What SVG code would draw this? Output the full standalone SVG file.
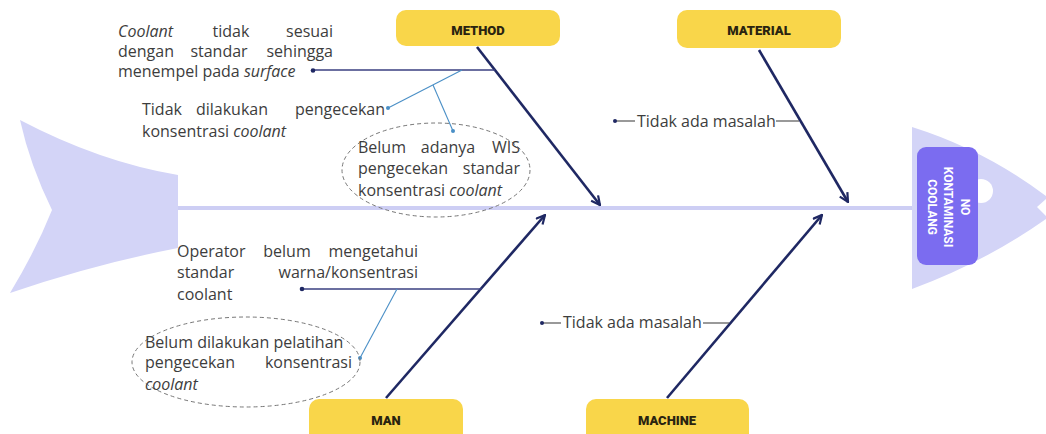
<svg xmlns="http://www.w3.org/2000/svg" width="1046" height="434" viewBox="0 0 1046 434">
<style>
.t{font-family:'Open Sans','Liberation Sans',sans-serif;font-size:16px;fill:#3d3d3d}
.i{font-style:italic}
.e{text-anchor:end}
.m{text-anchor:middle}
.box{fill:#F9D64A}
.lbl{font-family:Roboto,'DejaVu Sans',sans-serif;font-weight:900;font-size:13px;fill:#2a2410;text-anchor:middle}
.bone{stroke:#1f2863;stroke-width:2.6;fill:none}
.sub{stroke:#3a3f80;stroke-width:1.5;fill:none}
.blue{stroke:#4a8fc6;stroke-width:1.1;fill:none}
.thin{stroke:#555;stroke-width:1.2;fill:none}
.dot{fill:#1f2863}
.bdot{fill:#4a8fc6}
.ell{fill:none;stroke:#777;stroke-width:1;stroke-dasharray:4 3}
.fish{fill:#d3d4f7}
</style>
<defs>
<marker id="arr" viewBox="0 0 10 10" refX="9" refY="5" markerWidth="11" markerHeight="11" markerUnits="userSpaceOnUse" orient="auto">
<path d="M1,1 L9,5 L1,9" fill="none" stroke="#1f2863" stroke-width="2"/>
</marker>
</defs>

<g id="tail">
<path class="fish" d="M20,120 Q100,162 178,175 L178,248 Q95,264 10,293 Q36,250 52,210 Q30,165 20,120 Z"/>
</g>

<g id="spine">
<line x1="178" y1="208" x2="916" y2="208" stroke="#cdcef4" stroke-width="4"/>
</g>

<g id="head">
<path class="fish" d="M912,127 Q985,150 1046,196 L1046,199 L1037,207 L1046,216 L1046,219 Q985,262 912,289 Z"/>
<circle cx="981" cy="191" r="12" fill="#fff"/>
<rect x="917" y="147" width="61" height="118" rx="9" fill="#7b6cf0"/>
<g transform="translate(947,207) rotate(90)" font-family="Roboto,'DejaVu Sans',sans-serif" font-weight="700" font-size="12" fill="#fff" text-anchor="middle">
<text x="0" y="-13.5">NO</text>
<text x="0" y="3">KONTAMINASI</text>
<text x="0" y="19">COOLANG</text>
</g>
</g>

<g id="method">
<rect class="box" x="396" y="10" width="164" height="36" rx="10"/>
<text class="lbl" x="478" y="35">METHOD</text>
</g>
<g id="material">
<rect class="box" x="677" y="10" width="164" height="38" rx="10"/>
<text class="lbl" x="759" y="35">MATERIAL</text>
</g>
<g id="man">
<rect class="box" x="309" y="399" width="154" height="44" rx="10"/>
<text class="lbl" x="386" y="425">MAN</text>
</g>
<g id="machine">
<rect class="box" x="586" y="399" width="163" height="44" rx="10"/>
<text class="lbl" x="667" y="425">MACHINE</text>
</g>

<g id="connectors">
<line class="bone" x1="477" y1="47" x2="600" y2="205" marker-end="url(#arr)"/>
<line class="bone" x1="759" y1="50" x2="848" y2="202" marker-end="url(#arr)"/>
<line class="bone" x1="386" y1="398" x2="545" y2="215" marker-end="url(#arr)"/>
<line class="bone" x1="667" y1="398" x2="822" y2="215" marker-end="url(#arr)"/>
<line class="sub" x1="313" y1="70" x2="495" y2="70"/>
<circle class="dot" cx="313" cy="70.5" r="2.3"/>
<line class="blue" x1="462" y1="70" x2="388" y2="108"/>
<circle class="bdot" cx="388" cy="108" r="2"/>
<line class="blue" x1="433" y1="85" x2="453" y2="131"/>
<circle class="bdot" cx="453" cy="131" r="2"/>
<line class="sub" x1="302" y1="289" x2="482" y2="289"/>
<circle class="dot" cx="302" cy="289" r="2.3"/>
<line class="blue" x1="397" y1="289" x2="360" y2="358"/>
<circle class="bdot" cx="360" cy="358" r="2"/>
<line class="thin" x1="615" y1="121" x2="635" y2="121"/>
<circle class="dot" cx="615" cy="121" r="2"/>
<line class="thin" x1="776" y1="121" x2="799" y2="121"/>
<line class="thin" x1="542" y1="323" x2="561" y2="323"/>
<circle class="dot" cx="542" cy="323" r="2"/>
<line class="thin" x1="703" y1="323" x2="729" y2="323"/>
</g>

<g id="cause-coolant-surface">
<text class="t i" x="118" y="37">Coolant</text>
<text class="t m" x="231" y="37">tidak</text>
<text class="t e" x="333" y="37">sesuai</text>
<text class="t" x="118" y="57">dengan</text>
<text class="t m" x="219" y="57">standar</text>
<text class="t e" x="333" y="57">sehingga</text>
<text class="t" x="118" y="77">menempel pada <tspan class="i">surface</tspan></text>
</g>

<g id="cause-no-check">
<text class="t" x="142" y="115">Tidak</text>
<text class="t m" x="232" y="115">dilakukan</text>
<text class="t e" x="385" y="115">pengecekan</text>
<text class="t" x="142" y="137">konsentrasi <tspan class="i">coolant</tspan></text>
</g>

<g id="cause-no-wis">
<ellipse class="ell" cx="436" cy="170" rx="94" ry="47"/>
<text class="t" x="358" y="153">Belum</text>
<text class="t m" x="448" y="153">adanya</text>
<text class="t e" x="520" y="153">WIS</text>
<text class="t" x="358" y="174">pengecekan</text>
<text class="t e" x="520" y="174">standar</text>
<text class="t" x="358" y="196">konsentrasi <tspan class="i">coolant</tspan></text>
</g>

<g id="cause-material">
<text class="t" x="637" y="127">Tidak ada masalah</text>
</g>

<g id="cause-operator">
<text class="t" x="177" y="257">Operator</text>
<text class="t m" x="287" y="257">belum</text>
<text class="t e" x="418" y="257">mengetahui</text>
<text class="t" x="177" y="278">standar</text>
<text class="t e" x="418" y="278">warna/konsentrasi</text>
<text class="t" x="177" y="300">coolant</text>
</g>

<g id="cause-training">
<ellipse class="ell" cx="246" cy="362" rx="114" ry="45"/>
<text class="t" x="145" y="348">Belum dilakukan pelatihan</text>
<text class="t" x="145" y="368">pengecekan</text>
<text class="t e" x="352" y="368">konsentrasi</text>
<text class="t i" x="145" y="390">coolant</text>
</g>

<g id="cause-machine">
<text class="t" x="563" y="328">Tidak ada masalah</text>
</g>
</svg>
